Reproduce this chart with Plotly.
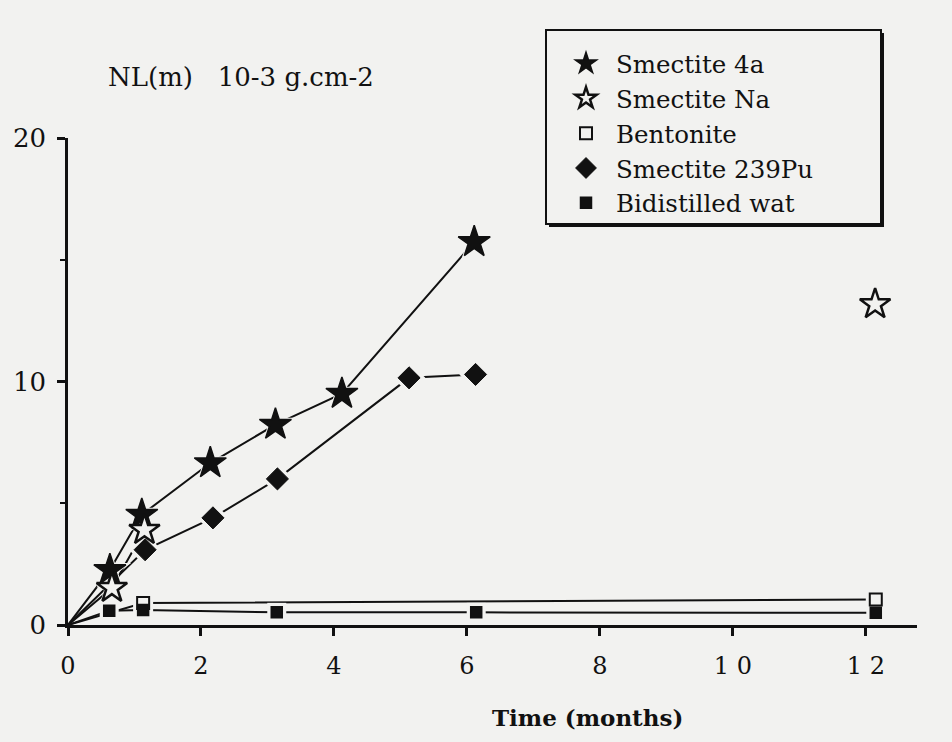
import plotly.graph_objects as go

# Leaching measurements, NL(m) in 10-3 g.cm-2 versus time in months.
# Each series starts from the origin (t = 0, NL = 0); markers are drawn
# for the measured points only (index 1 onwards).
smectite_4a_t = [0, 0.63, 1.11, 2.14, 3.12, 4.12, 6.11]
smectite_4a_nl = [0, 2.26, 4.53, 6.65, 8.23, 9.5, 15.73]

smectite_na_t = [0, 0.66, 1.15, 12.14]
smectite_na_nl = [0, 1.52, 3.9, 13.17]
smectite_na_joined = 3  # the 12-month point stands alone

bentonite_t = [0, 1.13, 12.15]
bentonite_nl = [0, 0.9, 1.05]

smectite_pu_t = [0, 1.16, 2.18, 3.15, 5.13, 6.13]
smectite_pu_nl = [0, 3.09, 4.4, 6.0, 10.15, 10.29]

water_t = [0, 0.62, 1.13, 3.14, 6.14, 12.15]
water_nl = [0, 0.59, 0.62, 0.52, 0.52, 0.5]

x_ticks = [0, 2, 4, 6, 8, 10, 12]
x_tick_text = ["0", "2", "4", "6", "8", "1 0", "1 2"]
y_ticks = [0, 10, 20]

BG = "#f2f2f0"
INK = "#111111"
FONT = "DejaVu Serif"

W, H = 952, 742
ML, MR, MT, MB = 68, 35, 138, 117
PW, PH = W - ML - MR, H - MT - MB


def px_x(px):
    """Horizontal pixel position -> paper fraction."""
    return (px - ML) / PW


def px_y(py):
    """Vertical pixel position (from top) -> paper fraction."""
    return (H - MB - py) / PH


series = [
    dict(name="Smectite 4a", t=smectite_4a_t, nl=smectite_4a_nl,
         n_line=len(smectite_4a_t), symbol="star", size=24, fill=INK, lw=1.5),
    dict(name="Smectite Na", t=smectite_na_t, nl=smectite_na_nl,
         n_line=smectite_na_joined, symbol="star", size=23, fill=BG, lw=2.5),
    dict(name="Bentonite", t=bentonite_t, nl=bentonite_nl,
         n_line=len(bentonite_t), symbol="square", size=12, fill=BG, lw=2),
    dict(name="Smectite 239Pu", t=smectite_pu_t, nl=smectite_pu_nl,
         n_line=len(smectite_pu_t), symbol="diamond", size=17, fill=INK, lw=1),
    dict(name="Bidistilled wat", t=water_t, nl=water_nl,
         n_line=len(water_t), symbol="square", size=11, fill=INK, lw=1.5),
]

fig = go.Figure()

# connecting lines
for s in series:
    fig.add_trace(go.Scatter(
        x=s["t"][:s["n_line"]], y=s["nl"][:s["n_line"]],
        mode="lines", line=dict(color=INK, width=2),
        showlegend=False, hoverinfo="skip", cliponaxis=False,
    ))

# background-coloured halos so the lines stop short of each marker
for s in series:
    fig.add_trace(go.Scatter(
        x=s["t"][1:], y=s["nl"][1:], mode="markers",
        marker=dict(symbol=s["symbol"], size=s["size"] + 8, color=BG,
                    line=dict(width=0)),
        showlegend=False, hoverinfo="skip", cliponaxis=False,
    ))

# markers
for s in series:
    fig.add_trace(go.Scatter(
        x=s["t"][1:], y=s["nl"][1:], mode="markers", name=s["name"],
        marker=dict(symbol=s["symbol"], size=s["size"], color=s["fill"],
                    line=dict(color=INK, width=s["lw"])),
        cliponaxis=False,
    ))

# legend frame with a heavier lower-right edge
box = (546, 30, 881, 224)
shapes = [
    dict(type="rect", xref="paper", yref="paper", layer="above",
         x0=px_x(box[0] + 3), x1=px_x(box[2] + 3),
         y0=px_y(box[3] + 3), y1=px_y(box[1] + 3),
         fillcolor=INK, line=dict(width=0)),
    dict(type="rect", xref="paper", yref="paper", layer="above",
         x0=px_x(box[0]), x1=px_x(box[2]),
         y0=px_y(box[3]), y1=px_y(box[1]),
         fillcolor=BG, line=dict(color=INK, width=2)),
]

fig.update_layout(
    width=W, height=H,
    margin=dict(l=ML, r=MR, t=MT, b=MB),
    paper_bgcolor=BG, plot_bgcolor=BG,
    font=dict(family=FONT, color=INK, size=22),
    showlegend=True,
    legend=dict(
        x=px_x(556), y=px_y(41), xanchor="left", yanchor="top",
        bgcolor="rgba(0,0,0,0)", borderwidth=0,
        font=dict(family=FONT, size=24.5, color=INK),
        itemsizing="trace", itemwidth=50, tracegroupgap=0,
    ),
    xaxis=dict(
        range=[0, 12.77], showgrid=False, zeroline=False,
        showline=True, linecolor=INK, linewidth=2.5,
        tickmode="array", tickvals=x_ticks, ticktext=x_tick_text,
        ticks="outside", ticklen=8, tickwidth=2.5, tickcolor=INK,
        ticklabelstandoff=9,
        tickfont=dict(family=FONT, size=24, color=INK),
    ),
    yaxis=dict(
        range=[0, 20], showgrid=False, zeroline=False,
        showline=True, linecolor=INK, linewidth=2.5,
        tickmode="array", tickvals=y_ticks,
        ticks="outside", ticklen=8, tickwidth=2.5, tickcolor=INK,
        minor=dict(dtick=5, ticks="outside", ticklen=5, tickwidth=2,
                   tickcolor=INK),
        ticklabelstandoff=6,
        tickfont=dict(family=FONT, size=26, color=INK),
    ),
    shapes=shapes,
    annotations=[
        dict(text="NL(m)   10-3 g.cm-2", xref="paper", yref="paper",
             x=px_x(106), y=px_y(77), xanchor="left", yanchor="middle",
             showarrow=False, font=dict(family=FONT, size=26, color=INK)),
        dict(text="<b>Time (months)</b>", xref="paper", yref="paper",
             x=px_x(587), y=px_y(717), xanchor="center", yanchor="middle",
             showarrow=False, font=dict(family=FONT, size=23, color=INK)),
    ],
)

fig.write_html("out.html")
